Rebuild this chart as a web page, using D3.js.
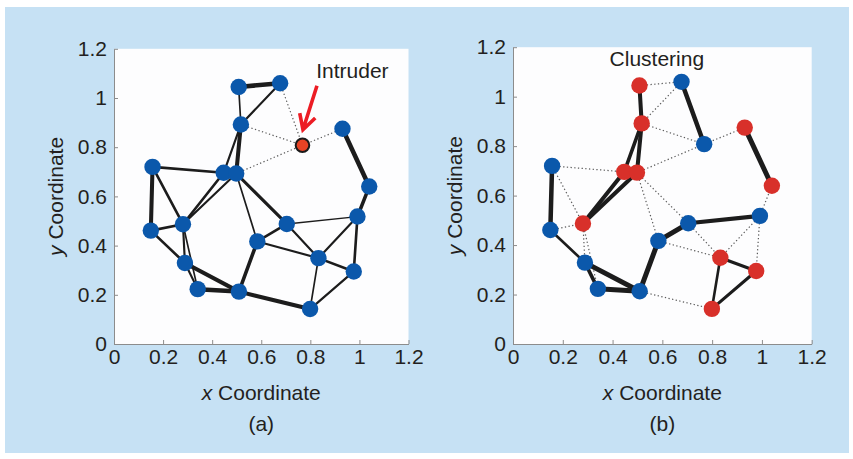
<!DOCTYPE html>
<html>
<head>
<meta charset="utf-8">
<script src="https://cdn.jsdelivr.net/npm/d3@7"></script>
<style>
  html, body { margin: 0; padding: 0; background: #ffffff; }
  svg text { font-family: "Liberation Sans", Arial, Helvetica, sans-serif; fill: #231f20; }
</style>
</head>
<body>
<svg id="fig" width="853" height="459"></svg>
<script>
// Sensor node coordinates (same deployment in both panels)
const nodeIds = ["n1","n2","n3","n4","n5","n6","n7","n8","n9","n10",
                 "n11","n12","n13","n14","n15","n16","n17","n18","n19","n20"];
const nodeX = [0.508, 0.677, 0.517, 0.931, 0.768, 0.157, 0.447, 0.498, 1.040, 0.150,
               0.281, 0.704, 0.992, 0.584, 0.289, 0.833, 0.341, 0.509, 0.977, 0.799];
const nodeY = [1.045, 1.060, 0.892, 0.875, 0.808, 0.720, 0.696, 0.693, 0.640, 0.461,
               0.487, 0.488, 0.518, 0.417, 0.329, 0.349, 0.223, 0.213, 0.295, 0.142];

// Node n5 is the intruder in (a); cluster membership in (b): 1 = red, 0 = blue
const intruderId = "n5";
const clusterB = [1, 0, 1, 1, 0, 0, 1, 1, 1, 0,
                  1, 0, 0, 0, 0, 1, 0, 0, 1, 1];

// Links: endpoints and trust weight in each panel (0 = weak/untrusted link)
const linkSource = ["n1","n1","n2","n2","n3","n4","n8","n3","n3","n4",
                    "n6","n6","n6","n10","n10","n11","n11","n11","n11","n15",
                    "n15","n17","n18","n18","n8","n8","n14","n14","n12","n12",
                    "n13","n13","n13","n16","n16","n19"];
const linkTarget = ["n2","n3","n3","n5","n5","n5","n5","n7","n8","n9",
                    "n7","n10","n11","n11","n15","n7","n8","n15","n17","n17",
                    "n18","n18","n14","n20","n14","n12","n12","n16","n16","n13",
                    "n16","n19","n9","n19","n20","n20"];
const weightA = [4.5, 1.5, 2.0, 0, 0, 0, 0, 2.0, 4.0, 4.5,
                 2.5, 4.0, 2.5, 2.5, 2.5, 2.5, 2.0, 2.0, 1.5, 2.0,
                 4.0, 4.5, 3.5, 4.0, 1.5, 3.0, 2.5, 2.0, 2.0, 1.2,
                 2.0, 2.5, 3.5, 2.5, 1.5, 2.0];
const weightB = [0, 4.0, 0, 4.5, 0, 0, 0, 3.5, 4.0, 5.0,
                 0, 4.5, 0, 0, 2.5, 4.0, 4.0, 0, 0, 3.5,
                 5.0, 5.0, 5.0, 0, 0, 0, 5.0, 0, 0, 4.0,
                 0, 0, 0, 3.0, 2.5, 3.0];

const tickValues = [0, 0.2, 0.4, 0.6, 0.8, 1, 1.2];

const BLUE = "#0b58ab";
const RED = "#d8302a";
const INTRUDER = "#e64325";
const FONT = 21;

const svg = d3.select("#fig");

// light blue figure background
svg.append("rect").attr("x", 5).attr("y", 7).attr("width", 844).attr("height", 446)
  .attr("fill", "#c6e1f4");

const widthScale = d3.scaleLinear().domain([1, 5]).range([1.2, 5]);

function drawPanel(cfg) {
  const x = d3.scaleLinear().domain([0, 1.2]).range([cfg.left, cfg.right]);
  const y = d3.scaleLinear().domain([0, 1.2]).range([cfg.bottom, cfg.top]);
  const g = svg.append("g");

  // plot area
  g.append("rect").attr("x", cfg.left).attr("y", cfg.top)
    .attr("width", cfg.right - cfg.left).attr("height", cfg.bottom - cfg.top)
    .attr("fill", "#fdfdfe");

  const fmt = d3.format("~g");
  const xAxis = g.append("g").attr("transform", `translate(0,${cfg.bottom})`)
    .call(d3.axisBottom(x).tickValues(tickValues).tickFormat(fmt)
      .tickSizeInner(-4).tickSizeOuter(0).tickPadding(5));
  const yAxis = g.append("g").attr("transform", `translate(${cfg.left},0)`)
    .call(d3.axisLeft(y).tickValues(tickValues).tickFormat(fmt)
      .tickSizeInner(-4).tickSizeOuter(0).tickPadding(7));
  [xAxis, yAxis].forEach(a => {
    a.selectAll("path.domain").attr("stroke", "#8c8c8c");
    a.selectAll(".tick line").attr("stroke", "#8c8c8c");
    a.selectAll(".tick text").attr("font-size", FONT).attr("fill", "#231f20")
      .style("font-family", '"Liberation Sans", Arial, sans-serif');
  });

  // axis titles
  const cx = (cfg.left + cfg.right) / 2;
  const xt = g.append("text").attr("x", cx).attr("y", 400)
    .attr("text-anchor", "middle").attr("font-size", FONT);
  xt.append("tspan").attr("font-style", "italic").text("x");
  xt.append("tspan").text(" Coordinate");
  const ytx = cfg.left - 51;
  const yt = g.append("text")
    .attr("transform", `translate(${ytx},${(cfg.top + cfg.bottom) / 2}) rotate(-90)`)
    .attr("text-anchor", "middle").attr("font-size", FONT);
  yt.append("tspan").attr("font-style", "italic").text("y");
  yt.append("tspan").text(" Coordinate");
  g.append("text").attr("x", cx).attr("y", 431).attr("text-anchor", "middle")
    .attr("font-size", FONT).text(cfg.caption);

  // links
  const idx = id => nodeIds.indexOf(id);
  const links = linkSource.map((s, i) => ({
    s: idx(s), t: idx(linkTarget[i]), w: cfg.weights[i]
  }));
  g.append("g").selectAll("line").data(links).join("line")
    .attr("x1", d => x(nodeX[d.s])).attr("y1", d => y(nodeY[d.s]))
    .attr("x2", d => x(nodeX[d.t])).attr("y2", d => y(nodeY[d.t]))
    .attr("stroke", d => d.w > 0 ? "#1c1c1c" : "#5a5a5a")
    .attr("stroke-width", d => d.w > 0 ? widthScale(d.w) : 1.2)
    .attr("stroke-dasharray", d => d.w > 0 ? null : "1.3,2.4")
    .attr("stroke-linecap", d => d.w > 0 ? "round" : "butt");

  // nodes
  const nodes = nodeIds.map((id, i) => ({ id, i }));
  g.append("g").selectAll("circle").data(nodes).join("circle")
    .attr("cx", d => x(nodeX[d.i])).attr("cy", d => y(nodeY[d.i]))
    .attr("r", d => cfg.intruder && d.id === intruderId ? 6.8 : 8.2)
    .attr("fill", d => cfg.fill(d))
    .attr("stroke", d => cfg.intruder && d.id === intruderId ? "#1a1a1a" : "none")
    .attr("stroke-width", 2);

  return { g, x, y };
}

// (a) network with an intruder
const pa = drawPanel({
  left: 114, right: 408.5, top: 48.8, bottom: 344, caption: "(a)",
  weights: weightA, intruder: true,
  fill: d => d.id === intruderId ? INTRUDER : BLUE
});
{
  const { g, x, y } = pa;
  const k = nodeIds.indexOf(intruderId);
  const tip = [x(nodeX[k] + 0.002), y(nodeY[k] + 0.063)];
  const tail = [x(nodeX[k] + 0.059), y(nodeY[k] + 0.242)];
  const ang = Math.atan2(tip[1] - tail[1], tip[0] - tail[0]);
  const L = 17, spread = 0.5;
  const a1 = [tip[0] - L * Math.cos(ang - spread), tip[1] - L * Math.sin(ang - spread)];
  const a2 = [tip[0] - L * Math.cos(ang + spread), tip[1] - L * Math.sin(ang + spread)];
  g.append("path")
    .attr("d", `M${tail}L${tip}M${a1}L${tip}L${a2}`)
    .attr("fill", "none").attr("stroke", "#ec1c24").attr("stroke-width", 3.6)
    .attr("stroke-linecap", "butt").attr("stroke-linejoin", "miter");
  g.append("text").attr("x", x(0.824)).attr("y", y(1.083))
    .attr("font-size", FONT).text("Intruder");
}

// (b) clustering result
const pb = drawPanel({
  left: 513, right: 811.7, top: 47.2, bottom: 344, caption: "(b)",
  weights: weightB, intruder: false,
  fill: d => clusterB[d.i] ? RED : BLUE
});
pb.g.append("text").attr("x", pb.x(0.578)).attr("y", pb.y(1.125))
  .attr("text-anchor", "middle").attr("font-size", FONT).text("Clustering");
</script>
</body>
</html>
